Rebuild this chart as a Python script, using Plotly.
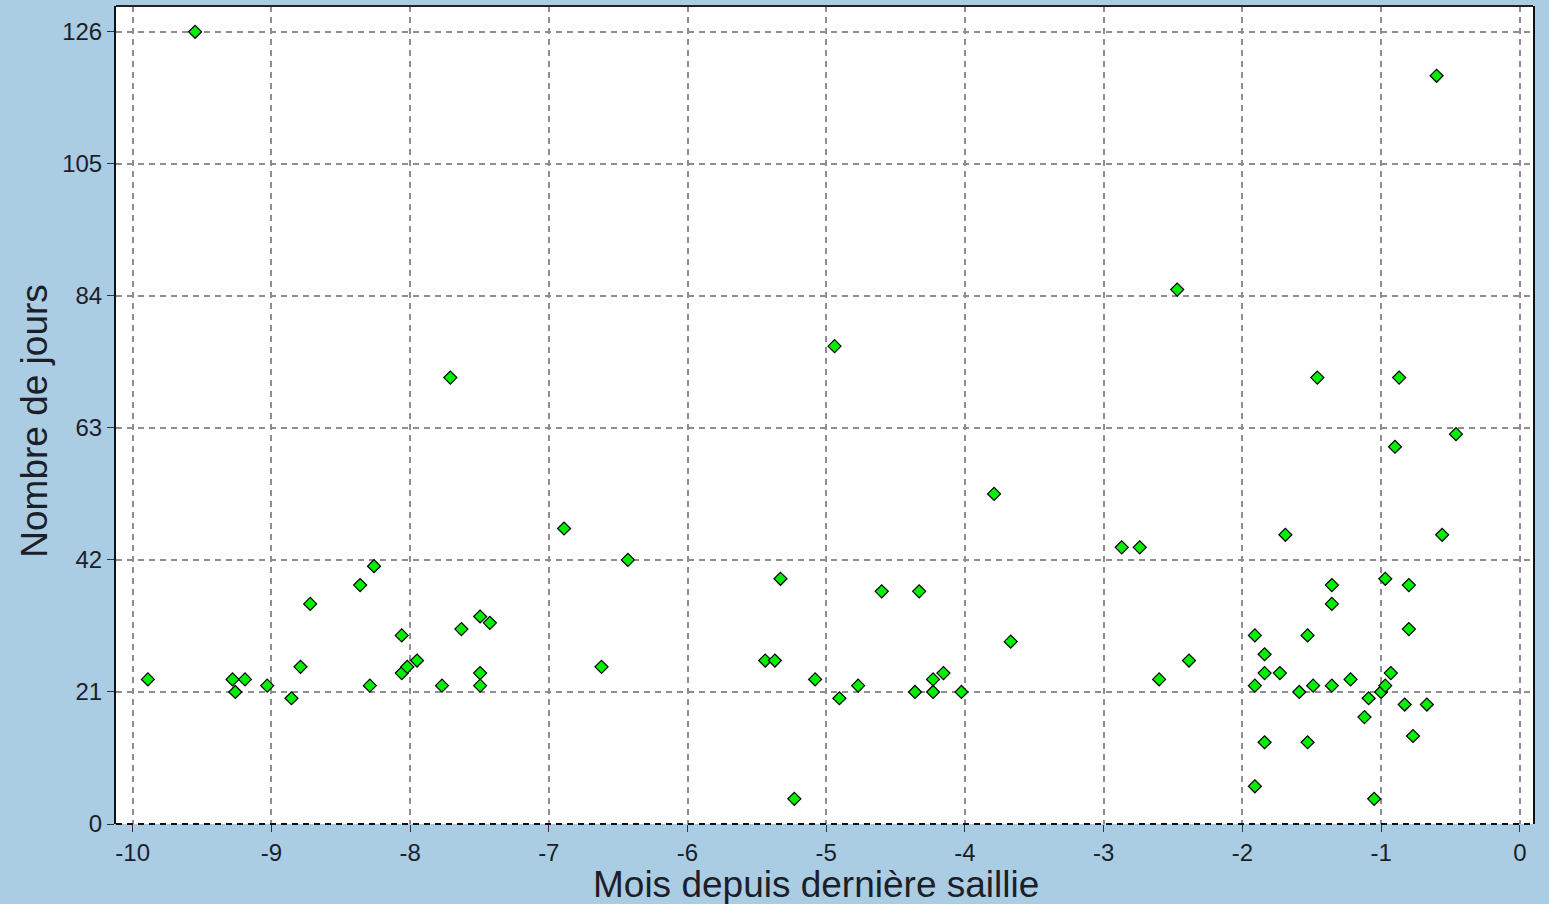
import plotly.graph_objects as go

# Months since last service (x) and number of days (y)
mois = [
    -9.55,
    -9.89, -9.28, -9.19, -9.26, -9.03, -8.855, -8.79, -8.72, -8.36, -8.26, -8.29,
    -8.06, -8.06, -8.02, -7.95, -7.77, -7.63, -7.495, -7.425, -7.495, -7.495, -7.71,
    -6.89, -6.43, -6.62, -5.33, -5.44, -5.37, -5.08, -5.23, -4.905, -4.77, -4.60,
    -4.33, -4.36, -4.23, -4.155, -4.23, -4.025, -3.67, -4.94, -3.79,
    -2.87, -2.74, -1.69, -0.56, -2.385, -2.60, -1.91, -1.84, -1.84, -1.73, -1.91,
    -1.53, -1.355, -1.355, -1.59, -1.49, -1.355, -1.22, -1.09, -1.12, -1.00, -0.97,
    -0.93, -0.97, -0.80, -0.80, -0.83, -0.67, -0.77, -1.84, -1.53, -1.91, -1.05,
    -0.60, -2.47, -1.46, -0.87, -0.90, -0.46,
]
jours = [
    126,
    23, 23, 23, 21, 22, 20, 25, 35, 38, 41, 22,
    30, 24, 25, 26, 22, 31, 33, 32, 24, 22, 71,
    47, 42, 25, 39, 26, 26, 23, 4, 20, 22, 37,
    37, 21, 23, 24, 21, 21, 29, 76, 52.5,
    44, 44, 46, 46, 26, 23, 30, 27, 24, 24, 22,
    30, 38, 35, 21, 22, 22, 23, 20, 17, 21, 22,
    24, 39, 38, 31, 19, 19, 14, 13, 13, 6, 4,
    119, 85, 71, 71, 60, 62,
]

x_ticks = [-10, -9, -8, -7, -6, -5, -4, -3, -2, -1, 0]
y_ticks = [0, 21, 42, 63, 84, 105, 126]

x_title = "Mois depuis dernière saillie"
y_title = "Nombre de jours"

FONT = "Liberation Sans, Arial, sans-serif"
BG = "#AACDE4"
GRID = "#8e8e8e"
DASH = "6px,5px"

fig = go.Figure()
fig.add_trace(go.Scatter(
    x=mois, y=jours, mode="markers",
    marker=dict(symbol="diamond", size=10, color="#00F000",
                line=dict(color="#000000", width=1.2)),
    hoverinfo="x+y", showlegend=False,
))

fig.update_layout(
    width=1549, height=904,
    margin=dict(l=116, r=16, t=6, b=80, pad=0),
    paper_bgcolor=BG, plot_bgcolor="#FFFFFF",
    font=dict(family=FONT, size=24, color="#1e1e28"),
    xaxis=dict(
        range=[-10.12, 0.095], tickmode="array", tickvals=x_ticks,
        ticktext=[str(v) for v in x_ticks],
        showgrid=True, gridcolor=GRID, gridwidth=1.6, griddash=DASH,
        zeroline=False, showline=False,
        ticks="outside", ticklen=7, tickcolor="#333333", tickwidth=1,
        tickfont=dict(size=24, family=FONT, color="#1e1e28"),
    ),
    yaxis=dict(
        range=[0, 130.1], tickmode="array", tickvals=y_ticks,
        ticktext=[str(v) for v in y_ticks],
        showgrid=True, gridcolor=GRID, gridwidth=1.6, griddash=DASH,
        zeroline=False, showline=True, linecolor="#111111", linewidth=2,
        mirror=True,
        ticks="outside", ticklen=7, tickcolor="#333333", tickwidth=1,
        tickfont=dict(size=24, family=FONT, color="#1e1e28"),
    ),
    shapes=[
        dict(type="line", xref="paper", yref="paper", x0=0, x1=1, y0=1, y1=1,
             line=dict(color="#222222", width=2)),
        dict(type="line", xref="paper", yref="paper", x0=0, x1=1, y0=0, y1=0,
             line=dict(color="#111111", width=2, dash=DASH)),
    ],
    annotations=[
        dict(text=x_title, xref="paper", yref="paper", x=0.494, y=-0.0745,
             xanchor="center", yanchor="middle", showarrow=False,
             font=dict(size=37, family=FONT, color="#1e1e28")),
        dict(text=y_title, xref="paper", yref="paper", x=(35 - 116) / 1417,
             y=0.493, xanchor="center", yanchor="middle", textangle=-90,
             showarrow=False, font=dict(size=37, family=FONT, color="#1e1e28")),
    ],
)

fig.write_html(
    "out.html",
    config={"displayModeBar": False},
    post_script=(
        "document.body.style.margin='0';"
        "document.body.style.padding='0';"
        "document.documentElement.style.background='" + BG + "';"
        "document.body.style.overflow='hidden';"
    ),
)
